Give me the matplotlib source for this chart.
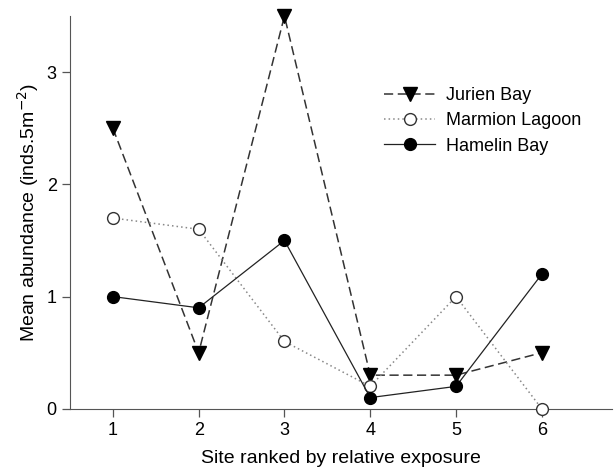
import numpy as np
import matplotlib.pyplot as plt

plt.rcParams['font.family'] = ['Liberation Sans', 'DejaVu Sans']

sites = [1, 2, 3, 4, 5, 6]
jurien = [2.5, 0.5, 3.5, 0.3, 0.3, 0.5]
marmion = [1.7, 1.6, 0.6, 0.2, 1.0, 0.0]
hamelin = [1.0, 0.9, 1.5, 0.1, 0.2, 1.2]

fig = plt.figure(figsize=(6.14, 4.71), dpi=100)
ax = fig.add_axes([0.114, 0.132, 0.883, 0.834])

ax.plot(sites, jurien, color='#333333', ls=(0, (6, 3)), lw=1.1, marker='v',
        ms=10, mfc='black', mec='black', label='Jurien Bay', clip_on=False, zorder=3)
ax.plot(sites, marmion, color='#888888', ls=(0, (1, 2)), lw=1.1, marker='o',
        ms=8.5, mfc='white', mec='#333333', mew=1.0, label='Marmion Lagoon', clip_on=False, zorder=4)
ax.plot(sites, hamelin, color='#222222', ls='-', lw=0.9, marker='o',
        ms=8.5, mfc='black', mec='black', label='Hamelin Bay', clip_on=False, zorder=5)

ax.set_xlim(0.5, 6.82)
ax.set_ylim(0, 3.5)
ax.set_xticks(sites)
ax.set_yticks([0, 1, 2, 3])
ax.spines['top'].set_visible(False)
ax.spines['right'].set_visible(False)
for s in ['left', 'bottom']:
    ax.spines[s].set_color('#555555')
ax.tick_params(direction='out', length=6, width=0.9, color='#555555', labelsize=13)
ax.set_xlabel('Site ranked by relative exposure', fontsize=14, labelpad=8)
ax.set_ylabel('Mean abundance (inds.5m$^{-2}$)', fontsize=14)

ax.legend(loc='upper left', bbox_to_anchor=(0.55, 0.86), frameon=False, fontsize=13,
          handlelength=2.8, handletextpad=0.6, labelspacing=0.45)

fig.savefig('out.png', dpi=100)
